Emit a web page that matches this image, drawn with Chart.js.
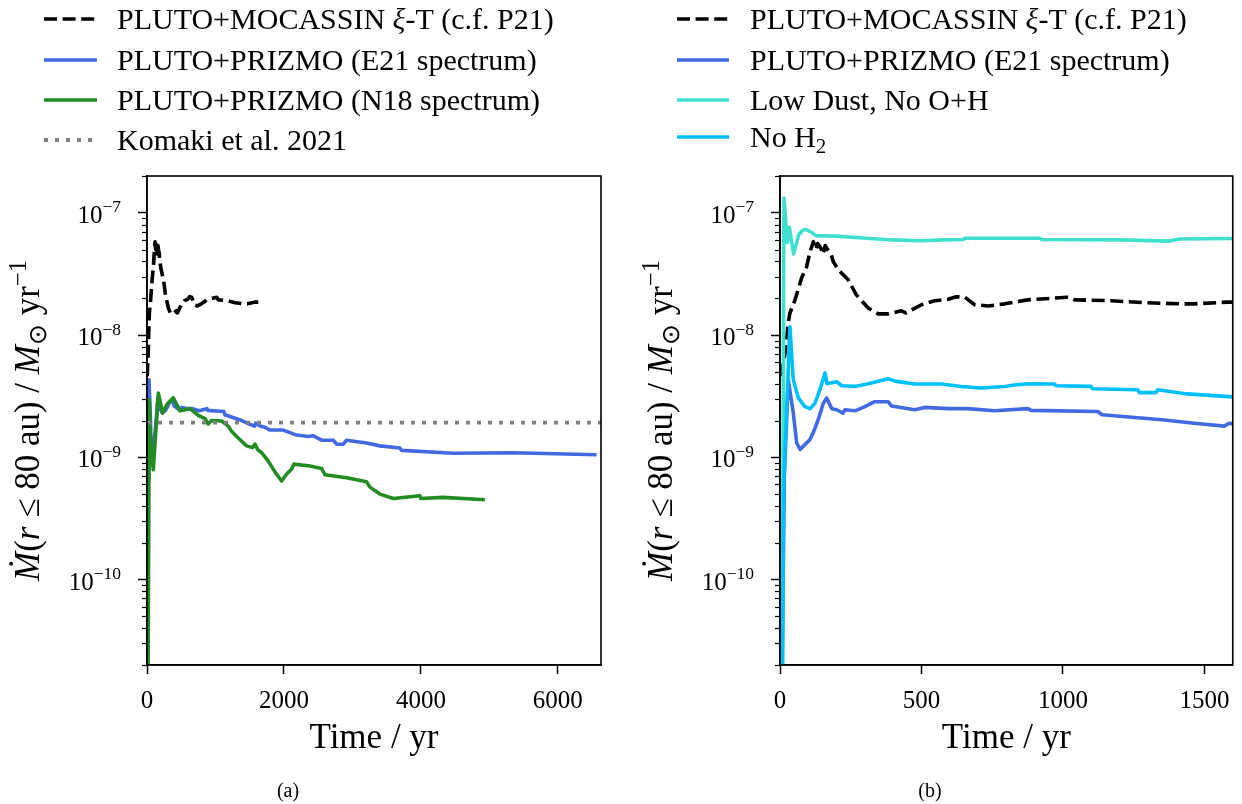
<!DOCTYPE html>
<html>
<head>
<meta charset="utf-8">
<script src="https://cdn.jsdelivr.net/npm/chart.js@4.4.1/dist/chart.umd.min.js"></script>
<style>
  html, body { margin: 0; padding: 0; background: #fff; }
  #wrap { position: relative; width: 1242px; height: 804px; }
  canvas { position: absolute; top: 0; }
  #leftChart { left: 0; }
  #rightChart { left: 621px; }
</style>
</head>
<body>
<div id="wrap">
  <canvas id="leftChart" width="621" height="804"></canvas>
  <canvas id="rightChart" width="621" height="804"></canvas>
</div>
<script>
// PLUTO+MOCASSIN xi-T (black dashed), shared by both panels
const mocassinTime = [3, 18, 30, 35, 53, 76, 94, 106, 118, 127, 133, 145, 152, 160, 168, 180, 188, 200, 218, 241, 270, 312, 347, 382, 429, 445, 464, 500, 547, 594, 623, 653, 688, 735, 794, 876, 1017, 1041, 1170, 1287, 1417, 1464, 1581, 1625];
const mocassinRate = [4.6e-9, 7.1e-9, 1.3e-8, 1.51e-8, 1.94e-8, 2.91e-8, 3.62e-8, 4.8e-8, 5.8e-8, 5.0e-8, 5.6e-8, 5.1e-8, 4.6e-8, 5.4e-8, 5.0e-8, 4.6e-8, 4.0e-8, 3.6e-8, 3.2e-8, 2.83e-8, 2.13e-8, 1.66e-8, 1.49e-8, 1.49e-8, 1.58e-8, 1.52e-8, 1.6e-8, 1.77e-8, 1.91e-8, 1.96e-8, 2.06e-8, 2.04e-8, 1.77e-8, 1.73e-8, 1.8e-8, 1.94e-8, 2.04e-8, 1.94e-8, 1.91e-8, 1.84e-8, 1.8e-8, 1.8e-8, 1.86e-8, 1.86e-8];

// PLUTO+PRIZMO (E21 spectrum), shared by both panels
const e21Time = [2, 15, 29, 47, 59, 71, 88, 106, 118, 135, 153, 165, 183, 200, 223, 229, 265, 300, 335, 382, 394, 476, 511, 594, 664, 758, 876, 887, 1123, 1138, 1350, 1464, 1570, 1587, 1650, 1723, 1796, 1990, 2185, 2355, 2428, 2550, 2720, 2769, 2866, 2915, 3207, 3401, 3693, 3718, 4472, 5348, 6565];
const e21Rate = [1e-12, 6.6e-10, 4.3e-9, 2.3e-9, 1.31e-9, 1.16e-9, 1.27e-9, 1.4e-9, 1.6e-9, 2.03e-9, 2.77e-9, 3.05e-9, 2.5e-9, 2.45e-9, 2.3e-9, 2.45e-9, 2.4e-9, 2.6e-9, 2.85e-9, 2.85e-9, 2.63e-9, 2.45e-9, 2.56e-9, 2.5e-9, 2.5e-9, 2.4e-9, 2.5e-9, 2.42e-9, 2.37e-9, 2.23e-9, 2.03e-9, 1.9e-9, 1.8e-9, 1.9e-9, 1.8e-9, 1.76e-9, 1.67e-9, 1.67e-9, 1.52e-9, 1.48e-9, 1.5e-9, 1.38e-9, 1.38e-9, 1.28e-9, 1.28e-9, 1.38e-9, 1.31e-9, 1.24e-9, 1.19e-9, 1.14e-9, 1.08e-9, 1.09e-9, 1.05e-9];

// PLUTO+PRIZMO (N18 spectrum), left panel only
const n18Time = [5, 34, 50, 92, 165, 229, 290, 384, 482, 628, 749, 847, 895, 944, 1090, 1187, 1236, 1309, 1455, 1540, 1577, 1620, 1674, 1771, 1869, 1966, 2039, 2112, 2146, 2380, 2550, 2599, 2915, 3207, 3255, 3401, 3600, 3985, 4000, 4326, 4934];
const n18Rate = [1e-12, 2.96e-9, 1.4e-9, 7.9e-10, 3.36e-9, 2.3e-9, 2.7e-9, 3.07e-9, 2.4e-9, 2.5e-9, 2.2e-9, 2.07e-9, 1.87e-9, 2.0e-9, 1.98e-9, 1.8e-9, 1.63e-9, 1.48e-9, 1.24e-9, 1.2e-9, 1.28e-9, 1.15e-9, 1.09e-9, 9.3e-10, 7.6e-10, 6.4e-10, 7.3e-10, 8.0e-10, 8.8e-10, 8.5e-10, 8.1e-10, 7.2e-10, 6.8e-10, 6.3e-10, 5.7e-10, 5.0e-10, 4.6e-10, 4.85e-10, 4.6e-10, 4.7e-10, 4.5e-10];

// Komaki et al. 2021 reference level
const komakiRate = 1.92e-9;

// Low Dust, No O+H (right panel)
const lowDustTime = [6, 14, 26, 33, 48, 66, 80, 92, 112, 128, 200, 317, 400, 494, 580, 647, 655, 917, 925, 1199, 1376, 1411, 1600];
const lowDustRate = [1e-12, 1.32e-7, 5.7e-8, 7.6e-8, 4.6e-8, 6.6e-8, 7.2e-8, 7.3e-8, 6.9e-8, 6.5e-8, 6.45e-8, 6.17e-8, 6.0e-8, 5.9e-8, 6.0e-8, 6.05e-8, 6.2e-8, 6.2e-8, 6.05e-8, 6.0e-8, 5.87e-8, 6.1e-8, 6.17e-8];

// No H2 (right panel)
const noH2Time = [8, 13, 35, 47, 65, 88, 106, 123, 141, 159, 166, 200, 218, 265, 312, 382, 406, 476, 570, 641, 711, 794, 829, 876, 970, 976, 1099, 1105, 1264, 1270, 1329, 1335, 1440, 1600];
const noH2Rate = [1e-11, 6e-10, 1.17e-8, 4.3e-9, 3.05e-9, 2.6e-9, 2.5e-9, 2.75e-9, 3.57e-9, 4.9e-9, 4.0e-9, 4.15e-9, 3.85e-9, 3.8e-9, 4.0e-9, 4.4e-9, 4.2e-9, 3.98e-9, 3.98e-9, 3.8e-9, 3.69e-9, 3.8e-9, 3.9e-9, 4.0e-9, 3.98e-9, 3.85e-9, 3.8e-9, 3.64e-9, 3.57e-9, 3.38e-9, 3.38e-9, 3.57e-9, 3.3e-9, 3.12e-9];

// axis settings
const rateMin = 2e-11;
const rateMax = 2e-7;
const rateTicks = [1e-10, 1e-9, 1e-8, 1e-7];
const leftMaxTime = 6630;
const leftTimeTicks = [0, 2000, 4000, 6000];
const rightMaxTime = 1600;
const rightTimeTicks = [0, 500, 1000, 1500];

const serif = '"Liberation Serif", "Times New Roman", serif';

function fontFor(p, size) {
    return (p.it ? 'italic ' : '') + (size * (p.s || 1)).toFixed(1) + 'px ' + serif;
}

// draw a run of text pieces (italic / superscript / subscript) on one baseline
function drawRich(ctx, parts, x, y, size, align) {
    const widths = parts.map(p => { ctx.font = fontFor(p, size); return ctx.measureText(p.t).width; });
    const total = widths.reduce((a, b) => a + b, 0);
    let cx = align === 'center' ? x - total / 2 : (align === 'right' ? x - total : x);
    ctx.textAlign = 'left';
    ctx.textBaseline = 'alphabetic';
    parts.forEach((p, i) => {
        ctx.font = fontFor(p, size);
        ctx.fillText(p.t, cx, y + (p.dy || 0) * size);
        cx += widths[i];
    });
}

function toPoints(times, rates) {
    return times.map((t, i) => ({ x: t, y: rates[i] }));
}

function lineSet(label, times, rates, color, extra) {
    return Object.assign({
        label: label,
        data: toPoints(times, rates),
        borderColor: color,
        backgroundColor: color,
        borderWidth: 3.6,
        pointRadius: 0,
        pointHoverRadius: 0,
        tension: 0,
        fill: false,
        clip: 0,
        borderJoinStyle: 'round',
        borderCapStyle: 'butt',
    }, extra || {});
}

const yTitle = [
    { t: 'Ṁ', it: true }, { t: '(' }, { t: 'r', it: true }, { t: ' ≤ 80 au) / ' },
    { t: 'M', it: true }, { t: '⊙', s: 0.7, dy: 0.2 }, { t: ' yr' }, { t: '−1', s: 0.7, dy: -0.38 }
];

// frame, minor ticks, tick labels, titles, legend, panel tag
const paperPlugin = {
    id: 'paper',
    afterDraw(chart, args, opts) {
        const ctx = chart.ctx;
        const area = chart.chartArea;
        const ys = chart.scales.y;
        ctx.save();

        // minor log ticks
        ctx.strokeStyle = '#000';
        ctx.lineWidth = 1.2;
        for (let e = -11; e <= -7; e++) {
            for (let m = 2; m <= 9; m++) {
                const v = m * Math.pow(10, e);
                if (v < rateMin * 0.999 || v > rateMax * 1.001) continue;
                const py = Math.round(ys.getPixelForValue(v)) + 0.5;
                ctx.beginPath();
                ctx.moveTo(area.left - 5, py);
                ctx.lineTo(area.left, py);
                ctx.stroke();
            }
        }

        // frame
        ctx.lineWidth = 1.6;
        ctx.strokeRect(area.left, area.top, area.right - area.left, area.bottom - area.top);

        ctx.fillStyle = '#000';
        // y tick labels 10^n
        rateTicks.forEach(v => {
            const py = ys.getPixelForValue(v);
            const n = Math.round(Math.log10(v));
            drawRich(ctx, [{ t: '10' }, { t: '−' + Math.abs(n), s: 0.7, dy: -0.42 }],
                area.left - 26, py + 10, 25, 'right');
        });

        // x title
        drawRich(ctx, [{ t: 'Time / yr' }], (area.left + area.right) / 2, 748, 35, 'center');

        // y title (rotated)
        ctx.save();
        ctx.translate(opts.yTitleX, (area.top + area.bottom) / 2);
        ctx.rotate(-Math.PI / 2);
        drawRich(ctx, yTitle, 0, 11, 35, 'center');
        ctx.restore();

        // legend
        opts.legend.forEach((item, i) => {
            const ds = chart.data.datasets[item.ds];
            const ry = opts.legendRows[i];
            ctx.save();
            ctx.strokeStyle = ds.borderColor;
            ctx.lineWidth = ds.borderWidth;
            ctx.setLineDash(ds.borderDash || []);
            ctx.lineCap = ds.borderCapStyle;
            ctx.beginPath();
            ctx.moveTo(opts.handleX0, ry);
            ctx.lineTo(opts.handleX1, ry);
            ctx.stroke();
            ctx.restore();
            ctx.fillStyle = '#000';
            drawRich(ctx, item.parts, opts.textX, ry + 10, 30, 'left');
        });

        // panel tag
        drawRich(ctx, [{ t: opts.tag }], opts.tagX, 797, 20, 'center');
        ctx.restore();
    }
};

function makeOptions(maxTime, timeTicks, yWidth, rightPad, paperOpts) {
    return {
        responsive: false,
        animation: false,
        devicePixelRatio: 1,
        layout: { padding: { left: 0, right: rightPad, top: 176, bottom: 0 } },
        plugins: {
            legend: { display: false },
            tooltip: { enabled: false },
            paper: paperOpts,
        },
        scales: {
            x: {
                type: 'linear',
                min: 0,
                max: maxTime,
                afterBuildTicks: scale => { scale.ticks = timeTicks.map(v => ({ value: v })); },
                afterFit: scale => { scale.height = 139; },
                grid: { drawOnChartArea: false, drawTicks: true, tickLength: 9, tickWidth: 1.5, tickColor: '#000' },
                border: { display: true, color: '#000', width: 1.6 },
                ticks: {
                    color: '#000',
                    padding: 12,
                    maxRotation: 0,
                    font: { family: serif, size: 25 },
                    callback: v => String(v),
                },
            },
            y: {
                type: 'logarithmic',
                min: rateMin,
                max: rateMax,
                afterBuildTicks: scale => { scale.ticks = rateTicks.map(v => ({ value: v })); },
                afterFit: scale => { scale.width = yWidth; },
                grid: { drawOnChartArea: false, drawTicks: true, tickLength: 9, tickWidth: 1.5, tickColor: '#000' },
                border: { display: true, color: '#000', width: 1.6 },
                ticks: { display: false },
            },
        },
    };
}

function stackOrder(sets) {
    sets.forEach((d, i) => { d.order = sets.length - i; });
    return sets;
}

const mocassinLabel = [{ t: 'PLUTO+MOCASSIN ' }, { t: 'ξ', it: true }, { t: '-T (c.f. P21)' }];
const e21Label = [{ t: 'PLUTO+PRIZMO (E21 spectrum)' }];

// panel (a)
const leftSets = stackOrder([
    lineSet('PLUTO+MOCASSIN ξ-T (c.f. P21)', mocassinTime, mocassinRate, '#000000', { borderDash: [13, 5.6] }),
    lineSet('PLUTO+PRIZMO (E21 spectrum)', e21Time, e21Rate, '#4169e1'),
    lineSet('PLUTO+PRIZMO (N18 spectrum)', n18Time, n18Rate, '#228b22'),
    lineSet('Komaki et al. 2021', [0, leftMaxTime], [komakiRate, komakiRate], '#808080', { borderDash: [4, 7], borderWidth: 3.8 }),
]);

new Chart(document.getElementById('leftChart').getContext('2d'), {
    type: 'line',
    data: { datasets: leftSets },
    options: makeOptions(leftMaxTime, leftTimeTicks, 147, 20, {
        yTitleX: 28,
        tag: '(a)',
        tagX: 288,
        handleX0: 44,
        handleX1: 97,
        textX: 117,
        legendRows: [19, 60, 100, 140],
        legend: [
            { ds: 0, parts: mocassinLabel },
            { ds: 1, parts: e21Label },
            { ds: 2, parts: [{ t: 'PLUTO+PRIZMO (N18 spectrum)' }] },
            { ds: 3, parts: [{ t: 'Komaki et al. 2021' }] },
        ],
    }),
    plugins: [paperPlugin],
});

// panel (b)
const rightSets = stackOrder([
    lineSet('PLUTO+MOCASSIN ξ-T (c.f. P21)', mocassinTime, mocassinRate, '#000000', { borderDash: [13, 5.6] }),
    lineSet('PLUTO+PRIZMO (E21 spectrum)', e21Time, e21Rate, '#4169e1'),
    lineSet('Low Dust, No O+H', lowDustTime, lowDustRate, '#40e0d0'),
    lineSet('No H2', noH2Time, noH2Rate, '#00bfff'),
]);

new Chart(document.getElementById('rightChart').getContext('2d'), {
    type: 'line',
    data: { datasets: rightSets },
    options: makeOptions(rightMaxTime, rightTimeTicks, 159, 9, {
        yTitleX: 40,
        tag: '(b)',
        tagX: 309,
        handleX0: 56,
        handleX1: 108,
        textX: 129,
        legendRows: [19, 60, 100, 137],
        legend: [
            { ds: 0, parts: mocassinLabel },
            { ds: 1, parts: e21Label },
            { ds: 2, parts: [{ t: 'Low Dust, No O+H' }] },
            { ds: 3, parts: [{ t: 'No H' }, { t: '2', s: 0.7, dy: 0.2 }] },
        ],
    }),
    plugins: [paperPlugin],
});
</script>
</body>
</html>
